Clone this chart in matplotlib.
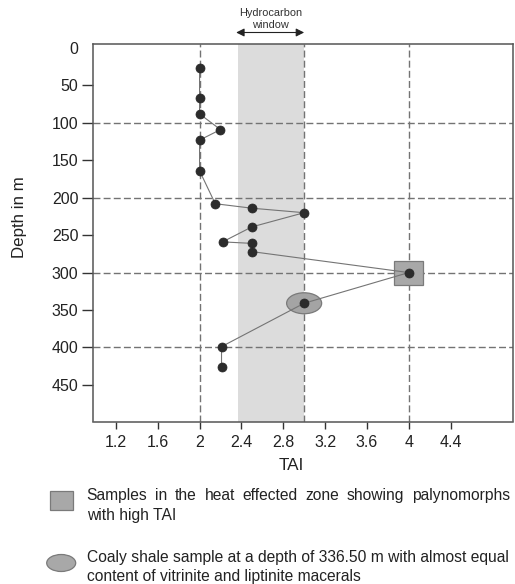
import matplotlib
matplotlib.use('Agg')
import matplotlib.pyplot as plt
from matplotlib.patches import Rectangle, Ellipse

plt.rcParams['font.family'] = ['Liberation Sans', 'DejaVu Sans']

# ---------------- data ----------------
depth = [27, 67, 88, 109, 123, 164, 208, 214, 220, 239, 259, 261, 272, 300, 341, 399, 426]
tai = [2.0, 2.0, 2.0, 2.2, 2.0, 2.0, 2.15, 2.5, 3.0, 2.5, 2.22, 2.5, 2.5, 4.0, 3.0, 2.21, 2.21]
xticks = [1.2, 1.6, 2.0, 2.4, 2.8, 3.2, 3.6, 4.0, 4.4]
xticklabels = ['1.2', '1.6', '2', '2.4', '2.8', '3.2', '3.6', '4', '4.4']
yticks = [0, 50, 100, 150, 200, 250, 300, 350, 400, 450]
yticklabels = ['0', '50', '100', '150', '200', '250', '300', '350', '400', '450']
hgrid = [100, 200, 300, 400]
vgrid = [2.0, 3.0, 4.0]
window = (2.365, 3.0)
heat_sample = (4.0, 300)      # TAI, depth
coaly_sample = (3.0, 341)     # TAI, depth
window_label = ['Hydrocarbon', 'window']
legend_heat = ['Samples in the heat effected zone showing palynomorphs', 'with high TAI']
legend_coaly = ['Coaly shale sample at a depth of 336.50 m with almost equal',
                'content of vitrinite and liptinite macerals']

# ---------------- figure ----------------
W, H = 515, 584
fig = plt.figure(figsize=(W / 100, H / 100), dpi=100)
ax = fig.add_axes([93.3 / W, 1 - 421.5 / H, (513.3 - 93.3) / W, (421.5 - 44.3) / H])

ax.set_xlim(0.984, 5.0)
ax.set_ylim(499, -5)

ax.axvspan(window[0], window[1], color='#dcdcdc', zorder=0, lw=0)

for yv in hgrid:
    ax.axhline(yv, color='#737373', lw=1.0, dashes=(5, 2.3), zorder=1)
for xv in vgrid:
    ax.axvline(xv, color='#737373', lw=1.0, dashes=(5, 2.3), zorder=1)

ax.add_patch(Rectangle((heat_sample[0] - 0.1385, heat_sample[1] - 16), 0.277, 32,
                       facecolor='#a8a8a8', edgecolor='#7a7a7a', lw=0.9, zorder=2))
ax.add_patch(Ellipse(coaly_sample, 0.335, 28,
                     facecolor='#a4a4a4', edgecolor='#7a7a7a', lw=0.9, zorder=2))

ax.plot(tai, depth, color='#747474', lw=0.8, zorder=3)
ax.plot(tai, depth, 'o', ms=6.5, color='#2c2c2c', mec='#262626', mew=0.5, zorder=4)

ax.set_xticks(xticks)
ax.set_xticklabels(xticklabels)
ax.set_yticks(yticks)
ax.set_yticklabels(yticklabels)
ax.tick_params(axis='x', direction='out', length=4.8, width=1.0, color='#333333',
               labelsize=11.5, labelcolor='#222222', pad=5.0)
ax.tick_params(axis='y', direction='out', length=7.7, width=1.0, color='#333333',
               labelsize=11.5, labelcolor='#222222', pad=3.0)
ax.yaxis.get_major_ticks()[0].tick1line.set_visible(False)
for s in ax.spines.values():
    s.set_color('#555555')
    s.set_linewidth(1.1)

fig.text(19.5 / W, 1 - 217 / H, 'Depth in m', rotation=90, ha='center', va='center',
         fontsize=12.2, color='#222222')
fig.text(291.7 / W, 1 - 466 / H, 'TAI', ha='center', va='center', fontsize=12.3,
         color='#222222')

fig.text(270.7 / W, 1 - 13.5 / H, window_label[0], ha='center', va='center',
         fontsize=7.9, color='#333333')
fig.text(270.7 / W, 1 - 25.5 / H, window_label[1], ha='center', va='center',
         fontsize=7.9, color='#333333')
ax.annotate('', xy=(2.35, 1 - 32.5 / H), xytext=(3.0, 1 - 32.5 / H),
            xycoords=('data', 'figure fraction'), textcoords=('data', 'figure fraction'),
            arrowprops=dict(arrowstyle='<|-|>', color='#222222', lw=0.8,
                            mutation_scale=12, shrinkA=0, shrinkB=0),
            annotation_clip=False)

# ---------------- legend ----------------
renderer = fig.canvas.get_renderer()


def text_width(s, fs):
    t = fig.text(0, 0, s, fontsize=fs)
    w = t.get_window_extent(renderer).width
    t.remove()
    return w


x0, x1 = 86.7, 510.0
fs = 10 * (x1 - x0) / text_width(legend_coaly[0], 10)


def draw_line(s, ybase, justify=False):
    if not justify:
        fig.text(x0 / W, 1 - ybase / H, s, ha='left', va='baseline', fontsize=fs,
                 color='#222222')
        return
    words = s.split(' ')
    widths = [text_width(w, fs) for w in words]
    gap = (x1 - x0 - sum(widths)) / (len(words) - 1)
    x = x0
    for w, wd in zip(words, widths):
        fig.text(x / W, 1 - ybase / H, w, ha='left', va='baseline', fontsize=fs,
                 color='#222222')
        x += wd + gap


draw_line(legend_heat[0], 500, justify=True)
draw_line(legend_heat[1], 520)
draw_line(legend_coaly[0], 562)
draw_line(legend_coaly[1], 581)

fig.patches.append(Rectangle((50 / W, 1 - 510 / H), 23.3 / W, 19 / H,
                             transform=fig.transFigure, facecolor='#a8a8a8',
                             edgecolor='#7a7a7a', lw=0.9))
fig.patches.append(Ellipse((61.2 / W, 1 - 563 / H), 29 / W, 17 / H,
                           transform=fig.transFigure, facecolor='#a8a8a8',
                           edgecolor='#7a7a7a', lw=0.9))

fig.savefig('out.png', dpi=100)
